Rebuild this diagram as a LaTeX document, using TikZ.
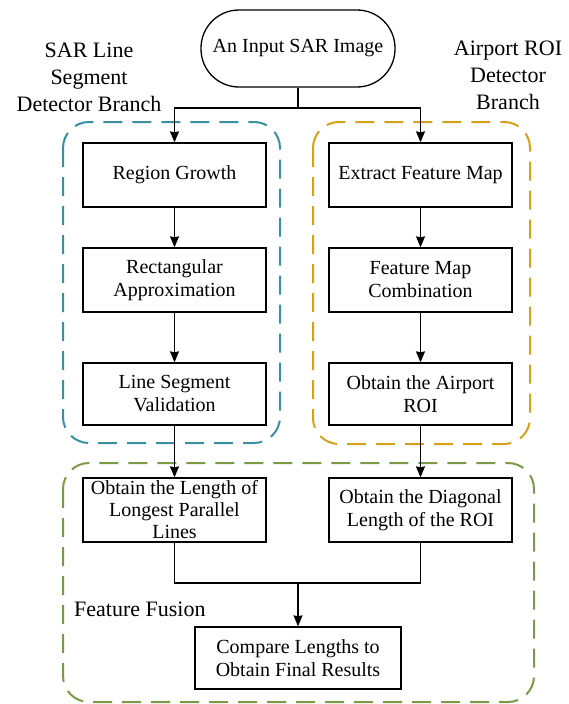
\documentclass[tikz,border=0pt]{standalone}
\usepackage{fontspec}
\setmainfont{Liberation Serif}
\newfontfamily\diagfont{Liberation Serif}
\usetikzlibrary{positioning,arrows.meta}

\definecolor{sarblue}{HTML}{3A8FA3}
\definecolor{roigold}{HTML}{D4A21A}
\definecolor{fusegreen}{HTML}{7A9A45}

\tikzset{
  procbox/.style={draw, line width=1.3pt, minimum width=183pt, minimum height=64pt,
    align=center, inner sep=1pt},
  startbox/.style={draw, line width=1.3pt, rounded corners=38pt, minimum width=194pt,
    minimum height=77pt},
  branchframe/.style={line width=2pt, dash pattern=on 19pt off 10pt, rounded corners=26pt},
  flow/.style={line width=1.3pt, >={Stealth[length=11pt,width=9pt,inset=1pt]}, ->},
  link/.style={line width=1.3pt},
  sidelabel/.style={align=center, font=\diagfont\fontsize{22}{27}\selectfont}
}

\begin{document}
\begin{tikzpicture}[x=1pt, y=-1pt, font=\diagfont\fontsize{20}{23}\selectfont]
    \useasboundingbox (0,0) rectangle (569,704);

    % frames
    \draw [branchframe, sarblue] (63,122) rectangle (280,443);
    \draw [branchframe, roigold] (313,122) rectangle (530,444);
    \draw [branchframe, fusegreen] (63,463) rectangle (534,702);

    % labels
    \node [sidelabel] (sarlabel) at (89,77) {SAR Line\\Segment\\Detector Branch};
    \node [sidelabel] (roilabel) at (508,75) {Airport ROI\\Detector\\Branch};
    \node [anchor=west, inner sep=0pt, font=\diagfont\fontsize{22}{27}\selectfont]
        (fuselabel) at (74,609) {Feature Fusion};

    % input
    \node [startbox] (input) at (298,48.5) {An Input SAR Image};

    % left branch
    \node [procbox] (growth) at (174.5,175) {Region Growth};
    \node [procbox] (approx) at (174.5,280) {Rectangular\\Approximation};
    \node [procbox, minimum height=62pt] (valid) at (174.5,394) {Line Segment\\Validation};

    % right branch
    \node [procbox] (extract) at (420.5,175) {Extract Feature Map};
    \node [procbox] (combine) at (420.5,280) {Feature Map\\Combination};
    \node [procbox, minimum height=62pt] (airroi) at (420.5,394) {Obtain the Airport\\ROI};

    % fusion
    \node [procbox, font=\diagfont\fontsize{20}{22}\selectfont, inner ysep=0pt] (longest) at (174.5,510)
        {Obtain the Length of\\Longest Parallel\\Lines};
    \node [procbox] (diagonal) at (420.5,510) {Obtain the Diagonal\\Length of the ROI};
    \node [procbox, minimum width=206pt, minimum height=62pt] (final) at (298,658)
        {Compare Lengths to\\Obtain Final Results};

    % connectors
    \coordinate (split) at (298,108);
    \coordinate (merge) at (298,583);
    \draw [link] (input) -- (split);
    \draw [flow] (split) -| (growth);
    \draw [flow] (split) -| (extract);
    \draw [flow] (growth) -- (approx);
    \draw [flow] (approx) -- (valid);
    \draw [flow] (extract) -- (combine);
    \draw [flow] (combine) -- (airroi);
    \draw [flow] (valid) -- (longest);
    \draw [flow] (airroi) -- (diagonal);
    \draw [link] (longest.south) |- (merge) -| (diagonal.south);
    \draw [flow] (merge) -- (final);

\end{tikzpicture}
\end{document}
